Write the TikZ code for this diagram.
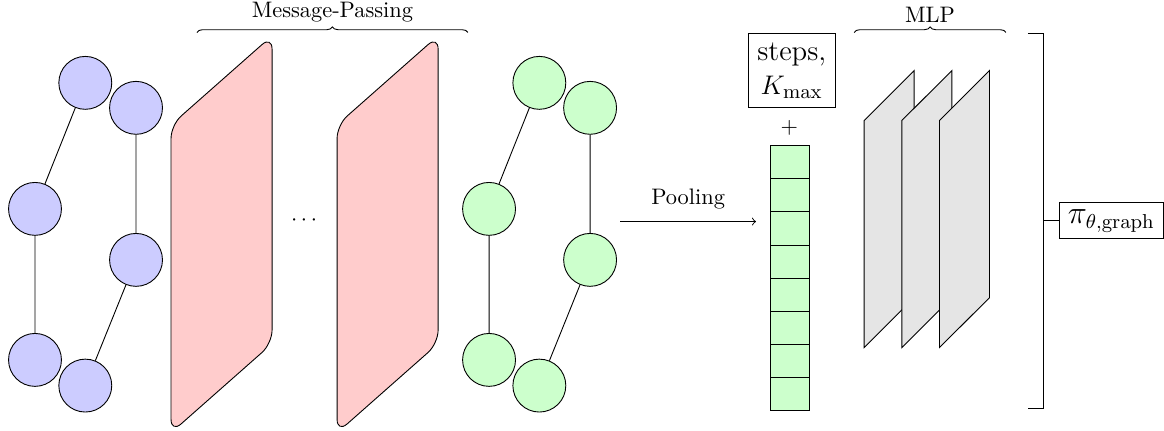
\documentclass[tikz,border=0pt]{standalone}
\usepackage{amsmath}
\usepackage{tikz}
\usetikzlibrary{calc}
\usetikzlibrary{arrows}
\usetikzlibrary{positioning}
\usetikzlibrary{decorations.pathreplacing}
\definecolor{lavender}{RGB}{204, 204, 255}
\definecolor{mint}{RGB}{204, 255, 204}
\definecolor{blush}{RGB}{255, 204, 204}
\definecolor{silver}{RGB}{229, 229, 229}
\tikzset{
  gnode/.style={circle, draw, minimum size=0.83cm, inner sep=0pt},
  cellbox/.style={rectangle, draw, fill=mint, minimum width=0.60cm, minimum height=0.52cm, inner sep=0pt},
  bracelabel/.style={midway, above=1pt},
}
\begin{document}
\begin{tikzpicture}
        \useasboundingbox (0.00, 0.00) rectangle (18.26, 6.76);
        \foreach \x in {2.683, 5.288}
            \filldraw[fill=blush, rounded corners=6pt] (\x,-0.03) -- (\x, 4.80) -- ++(1.585, 1.40) -- ++(0,-4.83) -- cycle;
        \node (dots) at (4.80, 3.30) {$\cdots$};
        \draw[decorate, decoration={brace}] (3.09, 6.25) -- (7.34, 6.25) node[bracelabel] {Message-Passing};

        \node[gnode, fill=lavender] (b1) at (1.338, 5.460) {};
        \node[gnode, fill=lavender] (b2) at (2.134, 5.068) {};
        \node[gnode, fill=lavender] (b3) at (0.549, 3.483) {};
        \node[gnode, fill=lavender] (b4) at (2.134, 2.683) {};
        \node[gnode, fill=lavender] (b5) at (0.549, 1.114) {};
        \node[gnode, fill=lavender] (b6) at (1.338, 0.711) {};
        \draw (b1) -- (b3) (b3) -- (b5) (b2) -- (b4) (b4) -- (b6);

        \node[gnode, fill=mint] (g1) at (8.461, 5.460) {};
        \node[gnode, fill=mint] (g2) at (9.257, 5.068) {};
        \node[gnode, fill=mint] (g3) at (7.672, 3.483) {};
        \node[gnode, fill=mint] (g4) at (9.257, 2.683) {};
        \node[gnode, fill=mint] (g5) at (7.672, 1.114) {};
        \node[gnode, fill=mint] (g6) at (8.461, 0.711) {};
        \draw (g1) -- (g3) (g3) -- (g5) (g2) -- (g4) (g4) -- (g6);

        \coordinate (poolA) at ( 9.73, 3.284);
        \coordinate (poolB) at (11.86, 3.284);
        \draw[->] (poolA) -- node[above=2pt] {Pooling} (poolB);

        \foreach \i in {1,...,8}
            \node[cellbox] (cell\i) at (12.393, {4.476-0.52*(\i-0.5)}) {};
        \node (plus) at (12.384, 4.759) {$+$};
        \node[draw, align=center, font=\fontsize{12.8}{15.2}\selectfont, inner sep=4pt] (steps) at (12.42, 5.656) {steps,\\$K_{\max}$};

        \foreach \dx in {0, 0.591, 1.182}
            \filldraw[fill=silver] (13.556+\dx, 1.307) -- (13.556+\dx, 4.869) -- ++(0.785, 0.784) -- ++(0,-3.562) -- cycle;
        \draw[decorate, decoration={brace}] (13.40, 6.25) -- (15.78, 6.25) node[bracelabel] {MLP};

        \coordinate (brmid) at (16.369, 3.295);
        \draw (16.125, 6.240) -- (16.369, 6.240) -- (16.369, 0.345) -- (16.125, 0.345);
        \node[draw, font=\fontsize{13.5}{16}\selectfont, inner xsep=4pt, inner ysep=3pt, anchor=west] (policy) at (16.605, 3.295) {$\pi_{\theta,\mathrm{graph}}$};
        \draw (brmid) -- (policy.west);
\end{tikzpicture}
\end{document}
